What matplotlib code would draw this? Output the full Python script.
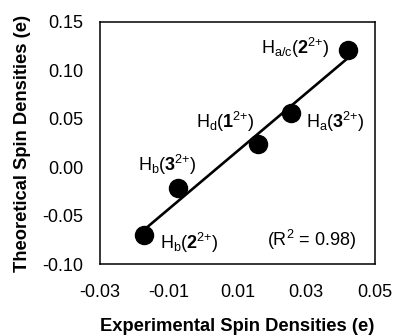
import numpy as np
import matplotlib
matplotlib.use("Agg")
import matplotlib.pyplot as plt

plt.rcParams['font.family'] = ['Liberation Sans', 'DejaVu Sans']
plt.rcParams['mathtext.fontset'] = 'custom'
plt.rcParams['mathtext.rm'] = 'Liberation Sans'
plt.rcParams['mathtext.it'] = 'Liberation Sans:italic'
plt.rcParams['mathtext.bf'] = 'Liberation Sans:bold'

# --- data ---
labels = [r'H$_{\mathrm{b}}$($\mathbf{2}^{\mathrm{2{+}}}$)',
          r'H$_{\mathrm{b}}$($\mathbf{3}^{\mathrm{2{+}}}$)',
          r'H$_{\mathrm{d}}$($\mathbf{1}^{\mathrm{2{+}}}$)',
          r'H$_{\mathrm{a}}$($\mathbf{3}^{\mathrm{2{+}}}$)',
          r'H$_{\mathrm{a/c}}$($\mathbf{2}^{\mathrm{2{+}}}$)']
exp_spin = [-0.0172, -0.0073, 0.0159, 0.0256, 0.0421]
theo_spin = [-0.070, -0.021, 0.024, 0.056, 0.121]
label_xy = [(-0.0125, -0.078), (-0.019, 0.002), (-0.002, 0.047),
            (0.0299, 0.047), (0.0168, 0.123)]
r2_text = r'(R$^{2}$ = 0.98)'
xticks = [-0.03, -0.01, 0.01, 0.03, 0.05]
yticks = [-0.10, -0.05, 0.00, 0.05, 0.10, 0.15]

fig = plt.figure(figsize=(3.95, 3.36), dpi=100)
ax = fig.add_axes([0.253, 0.214, 0.696, 0.721])

x = np.array(exp_spin)
y = np.array(theo_spin)
slope, icpt = np.polyfit(x, y, 1)
xs = np.array([x.min(), x.max()])
ax.plot(xs, slope * xs + icpt, color='black', lw=1.9, zorder=2)
ax.plot(x, y, 'o', color='black', ms=13, zorder=3)

for lab, (tx, ty) in zip(labels, label_xy):
    ax.text(tx, ty, lab, fontsize=13, ha='left', va='center')
ax.text(0.0186, -0.075, r2_text, fontsize=13, ha='left', va='center')

ax.set_xlim(-0.03, 0.05)
ax.set_ylim(-0.10, 0.15)
ax.set_xticks(xticks)
ax.set_xticklabels(['%.2f' % v for v in xticks])
ax.set_yticks(yticks)
ax.set_yticklabels(['%.2f' % v for v in yticks])
ax.tick_params(length=0, labelsize=13)
ax.tick_params(axis='x', pad=14)
ax.tick_params(axis='y', pad=12)
for s in ax.spines.values():
    s.set_linewidth(1.1)

ax.set_xlabel('Experimental Spin Densities (e)', fontsize=13.2, fontweight='bold')
ax.set_ylabel('Theoretical Spin Densities (e)', fontsize=13.2, fontweight='bold')
ax.xaxis.set_label_coords(0.5, -0.222)
ax.yaxis.set_label_coords(-0.25, 0.5)

fig.savefig('out.png', dpi=100)
